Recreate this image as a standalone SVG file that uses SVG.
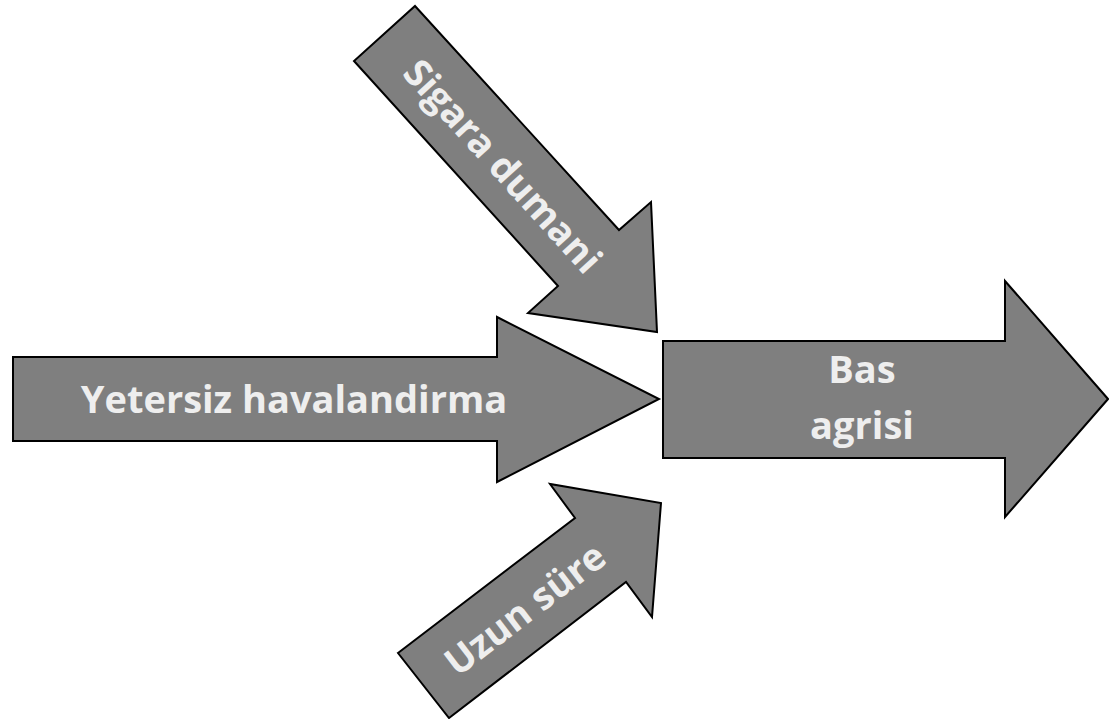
<svg xmlns="http://www.w3.org/2000/svg" width="1109" height="719" viewBox="0 0 1109 719">
<style>
.arrow{fill:#7f7f7f;stroke:#000;stroke-width:2;stroke-linejoin:miter}
.lbl{font-family:"Open Sans","Liberation Sans",sans-serif;font-weight:bold;font-size:38px;fill:#eeeeee;text-anchor:middle}
</style>
<rect width="1109" height="719" fill="#fff"/>
<g id="connectors"></g>
<g id="sigara">
<polygon class="arrow" points="415,6 619,230 651,202 657,332 528,313 558,286 354,61"/>
<text class="lbl" transform="translate(503,166) rotate(47.7)" x="0" y="13.5">Sigara dumani</text>
</g>
<g id="yetersiz">
<polygon class="arrow" points="13,357 497,357 497,317 659,399 497,482 497,441 13,441"/>
<text class="lbl" x="294" y="413">Yetersiz havalandirma</text>
</g>
<g id="uzun">
<polygon class="arrow" points="398,653 575,518 550,484 661,503 652,617 626,582 449,718"/>
<text class="lbl" transform="translate(525,609) rotate(-37.4)" x="0" y="13.5">Uzun süre</text>
</g>
<g id="bas">
<polygon class="arrow" points="663,341 1005,341 1005,281 1108,399 1005,517 1005,458 663,458"/>
<text class="lbl" x="862" y="383">Bas</text>
<text class="lbl" x="862" y="439">agrisi</text>
</g>
</svg>
